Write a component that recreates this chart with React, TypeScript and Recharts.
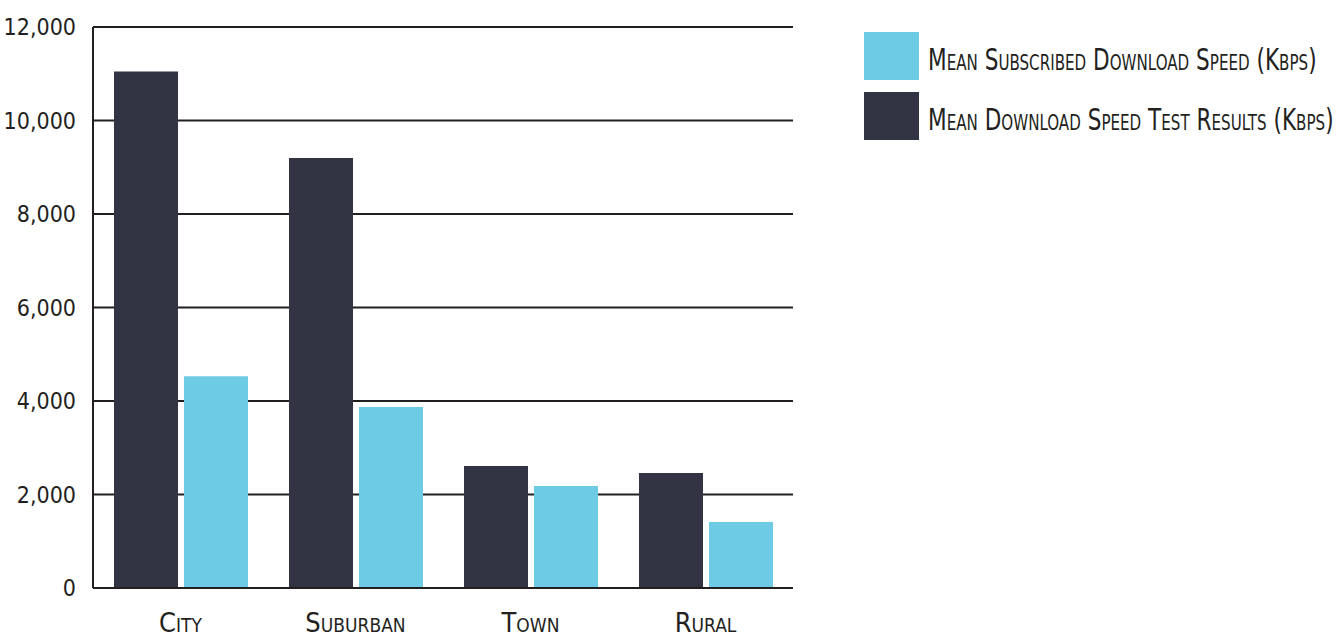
import { Bar, BarChart, CartesianGrid, XAxis, YAxis } from "recharts";

const categories = ["City", "Suburban", "Town", "Rural"];
const testResults = [11050, 9200, 2610, 2460];
const subscribed = [4530, 3870, 2180, 1410];
const yTicks = [0, 2000, 4000, 6000, 8000, 10000, 12000];

const dark = "#323443";
const light = "#6ecbe5";
const ink = "#231f20";
const font = "'DejaVu Sans Condensed', 'DejaVu Sans', sans-serif";

const data = categories.map((name, i) => ({
  name,
  test: testResults[i],
  subscribed: subscribed[i]
}));

const legendItems = [
  { label: "Mean Subscribed Download Speed (Kbps)", color: light },
  { label: "Mean Download Speed Test Results (Kbps)", color: dark }
];

function SpeedLegend() {
  return (
    <div style={{ position: "absolute", left: 864, top: 32, fontFamily: font, fontVariant: "small-caps", color: ink }}>
      {legendItems.map((item) => (
        <div key={item.label} style={{ display: "flex", alignItems: "center", height: 48, marginBottom: 12 }}>
          <div style={{ width: 55, height: 48, background: item.color, marginRight: 9, flexShrink: 0 }} />
          <span
            style={{
              fontSize: 30,
              whiteSpace: "nowrap",
              display: "inline-block",
              transform: "scaleX(0.8)",
              transformOrigin: "left center",
              marginTop: 6
            }}
          >
            {item.label}
          </span>
        </div>
      ))}
    </div>
  );
}

export default function App() {
  return (
    <div style={{ position: "fixed", left: 0, top: 0, width: 1344, height: 637, background: "#fff" }}>
      <BarChart
        width={1344}
        height={637}
        data={data}
        margin={{ top: 27, right: 551, bottom: 0, left: 0 }}
        barCategoryGap={19}
        barGap={6}
        barSize={64}
      >
        <CartesianGrid yAxisId="left" vertical={false} stroke={ink} strokeWidth={2} />
        <XAxis
          dataKey="name"
          height={49}
          tickLine={false}
          tickSize={0}
          tickMargin={25}
          axisLine={{ stroke: ink, strokeWidth: 2 }}
          tick={{ fill: ink, fontSize: 27, fontFamily: font, fontVariant: "small-caps" } as any}
        />
        <YAxis
          yAxisId="left"
          domain={[0, 12000]}
          ticks={yTicks}
          width={93}
          tickLine={false}
          tickSize={8}
          tickMargin={9}
          axisLine={{ stroke: ink, strokeWidth: 2 }}
          tickFormatter={(v: number) => v.toLocaleString("en-US")}
          tick={{ fill: ink, fontSize: 23, fontFamily: font }}
        />
        <YAxis
          yAxisId="right"
          orientation="right"
          domain={[0, 12000]}
          width={0}
          tick={false}
          tickLine={false}
          axisLine={{ stroke: ink, strokeWidth: 2 }}
        />
        <Bar yAxisId="left" dataKey="test" fill={dark} isAnimationActive={false} />
        <Bar yAxisId="left" dataKey="subscribed" fill={light} isAnimationActive={false} />
      </BarChart>
      <SpeedLegend />
    </div>
  );
}
